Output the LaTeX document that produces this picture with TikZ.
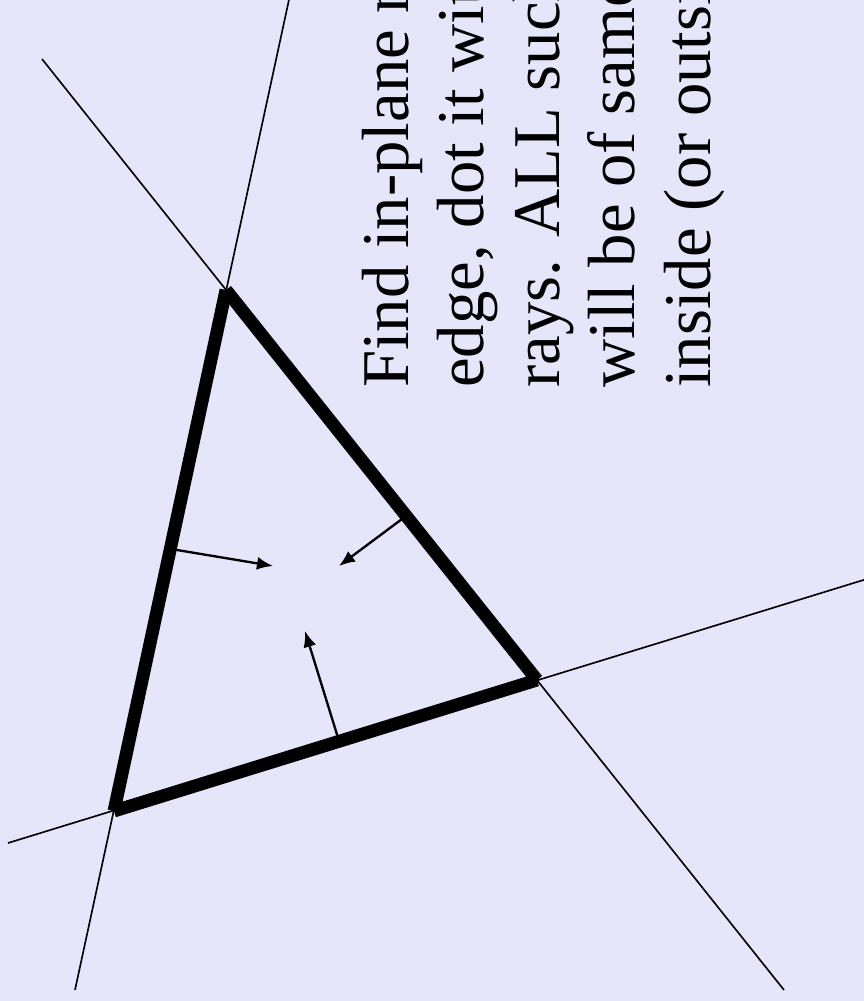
\documentclass[tikz,border=0pt]{standalone}
\usepackage{fontspec}
\setmainfont{Liberation Serif}
\usetikzlibrary{arrows.meta}
\definecolor{bglav}{RGB}{230,230,250}

\begin{document}
\begin{tikzpicture}[
  x=0.03cm,y=-0.03cm,
  edge/.style={line width=11pt,black},
  extline/.style={line width=1.4pt,black},
  normal/.style={-{Latex[length=4.8mm,width=3.9mm]},line width=2pt},
  note/.style={rotate=90,anchor=base west,inner sep=0pt,font=\fontsize{57}{64}\selectfont}
]
  \fill[bglav] (0,0) rectangle (864,1001);
  \clip (0,0) rectangle (864,1001);

  % triangle corners
  \coordinate (A) at (226,290);
  \coordinate (B) at (537,680);
  \coordinate (C) at (114,811);
  % far ends of the edge lines
  \coordinate (ab1) at (42,59);
  \coordinate (ab2) at (784,990);
  \coordinate (ac1) at (290,-5);
  \coordinate (ac2) at (75,990);
  \coordinate (bc1) at (8,843);
  \coordinate (bc2) at (870,578);

  \draw[extline] (ab1) -- (ab2);
  \draw[extline] (ac1) -- (ac2);
  \draw[extline] (bc1) -- (bc2);

  \draw[edge] (A) -- (B);
  \draw[edge] (B) -- (C);
  \draw[edge] (C) -- (A);

  % inward normals
  \coordinate (nAC) at (171,549);
  \coordinate (tAC) at (273,566);
  \coordinate (nAB) at (406,516);
  \coordinate (tAB) at (339,566);
  \coordinate (nBC) at (339,741);
  \coordinate (tBC) at (305,631);
  \draw[normal] (nAC) -- (tAC);
  \draw[normal] (nAB) -- (tAB);
  \draw[normal] (nBC) -- (tBC);

  \node[note] (line1) at (408,388) {Find in-plane n};
  \node[note] (line2) at (483.5,388) {edge, dot it wit};
  \node[note] (line3) at (559,388) {rays. ALL such};
  \node[note] (line4) at (634.5,388) {will be of same};
  \node[note] (line5) at (710,388) {inside (or outsi};
\end{tikzpicture}
\end{document}
